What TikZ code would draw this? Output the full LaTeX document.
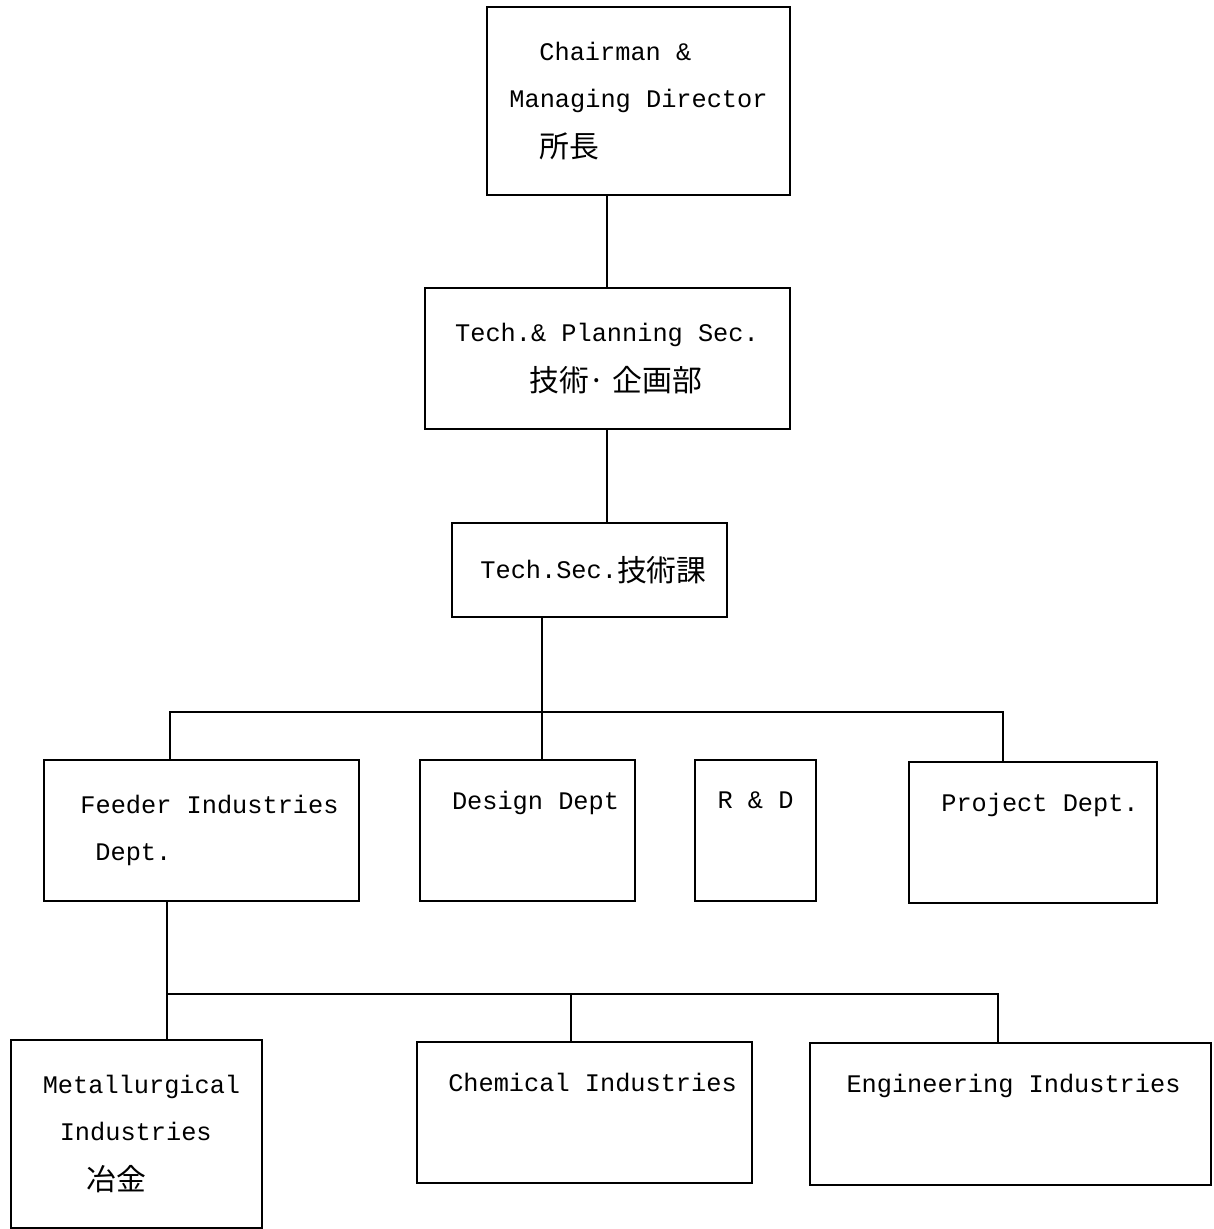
\documentclass[tikz,border=0pt]{standalone}
\usepackage{fontspec}
\setmonofont{Liberation Mono}
\newfontfamily\cjk[Scale=1.18]{Noto Sans CJK JP}
\newcommand{\jp}[1]{\raisebox{-3pt}{\cjk #1}}

\begin{document}
\begin{tikzpicture}[x=1pt,y=-1pt,
    unit/.style={draw, line width=2pt, inner sep=0pt, align=left,
                 font=\ttfamily\fontsize{25.3}{47}\selectfont},
    link/.style={line width=2pt}]
    \useasboundingbox (0,0) rectangle (1213,1229);
            % top of the chart
            \node[unit, minimum width=303pt, minimum height=188pt] (chair) at (638.5,101)
                {\hspace*{30pt}Chairman \&\\Managing Director\\\hspace*{30pt}\jp{所長}};
            \node[unit, minimum width=365pt, minimum height=141pt] (techplan) at (607,358.5)
                {Tech.\& Planning Sec.\\\hspace*{74pt}\jp{技術·\ 企画部}};
            \node[unit, minimum width=275pt, minimum height=94pt] (techsec) at (589.5,570)
                {\hspace*{8pt}Tech.Sec.\jp{技術課}};
            % departments
            \node[unit, minimum width=315pt, minimum height=141pt] (feeder) at (201.5,830.5)
                {\hspace*{16pt}Feeder Industries\\\hspace*{31pt}Dept.};
            \node[unit, minimum width=215pt, minimum height=141pt] (design) at (527.5,830.5)
                {\hspace*{16pt}Design Dept\\\strut};
            \node[unit, minimum width=121pt, minimum height=141pt] (rnd) at (755.5,830.5)
                {R \& D\\\strut};
            \node[unit, minimum width=248pt, minimum height=141pt] (project) at (1033,832.5)
                {\hspace*{14pt}Project Dept.\\\strut};
            % industries
            \node[unit, minimum width=251pt, minimum height=188pt] (metal) at (136.5,1134)
                {\hspace*{10pt}Metallurgical\\\hspace*{27pt}Industries\\\hspace*{54pt}\jp{冶金}};
            \node[unit, minimum width=335pt, minimum height=141pt] (chem) at (584.5,1112.5)
                {\hspace*{16pt}Chemical Industries\\\strut};
            \node[unit, minimum width=401pt, minimum height=142pt] (engg) at (1010.5,1114)
                {\hspace*{6pt}Engineering Industries\\\strut};
            \coordinate (hub) at (542,712);
            \coordinate (busL) at (170,712);
            \coordinate (busR) at (1003,712);
            \coordinate (lowL) at (167,994);
            \coordinate (lowM) at (571,994);
            \coordinate (lowR) at (998,994);
            \draw[link] (techplan.north |- chair.south) -- (techplan.north);
            \draw[link] (techplan.south) -- (techplan.south |- techsec.north);
            \draw[link] (techsec.south -| hub) -- (design.north -| hub);
            \draw[link] (feeder.north -| busL) -- (busL) -- (busR) -- (project.north -| busR);
            \draw[link] (feeder.south -| lowL) -- (metal.north -| lowL);
            \draw[link] (lowL) -- (lowR) -- (engg.north -| lowR);
            \draw[link] (lowM) -- (chem.north -| lowM);
\end{tikzpicture}
\end{document}
